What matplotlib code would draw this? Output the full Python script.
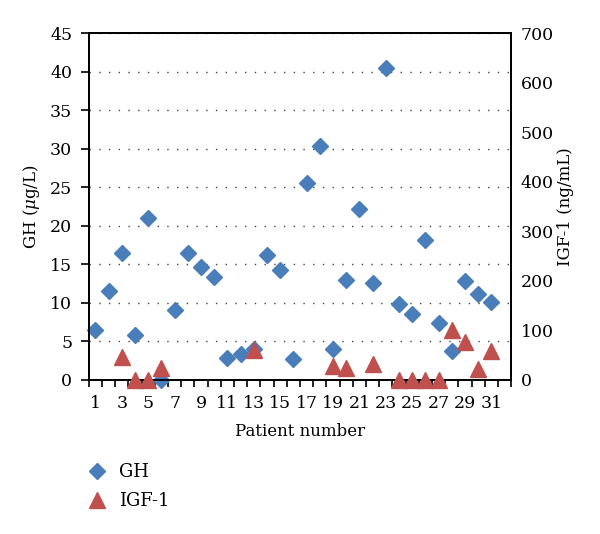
import numpy as np
import matplotlib.pyplot as plt

# patient numbers and measured values
patients = list(range(1, 32))
gh = [6.5, 11.6, 16.5, 5.8, 21.0, 0.0, 9.1, 16.5, 14.6, 13.3,
      2.9, 3.4, 4.0, 16.2, 14.3, 2.7, 25.6, 30.4, 4.0, 13.0,
      22.2, 12.6, 40.4, 9.8, 8.5, 18.2, 7.4, 3.7, 12.9, 11.1, 10.1]
igf_patients = [3, 4, 5, 6, 13, 19, 20, 22, 24, 25, 26, 27, 28, 29, 30, 31]
igf1 = [47, 0, 0, 25, 60, 29, 25, 32, 0, 0, 0, 0, 100, 77, 22, 58]

gh_ticks = list(range(0, 50, 5))
igf_ticks = list(range(0, 800, 100))
x_labels = list(range(1, 32, 2))

blue = '#4a7ebb'
red = '#c0504d'

plt.rcParams['font.family'] = ['DejaVu Serif']
plt.rcParams['mathtext.fontset'] = 'dejavuserif'
fs = 12
tfs = 12.5

fig = plt.figure(figsize=(6.0, 5.34), dpi=100)
ax = fig.add_axes([0.148, 0.2884, 0.704, 0.6498])
ax2 = ax.twinx()

ax.plot(patients, gh, linestyle='none', marker='D', ms=8.5, color=blue,
        markeredgecolor=blue, label='GH', clip_on=False, zorder=3)
ax2.plot(igf_patients, igf1, linestyle='none', marker='^', ms=11, color=red,
         markeredgecolor=red, label='IGF-1', clip_on=False, zorder=3)

ax.set_xlim(0.5, 32.5)
ax.set_ylim(0, 45)
ax2.set_ylim(0, 700)

ax.set_yticks(gh_ticks)
ax2.set_yticks(igf_ticks)
ax.set_xticks(x_labels)
ax.set_xticks(np.arange(0.5, 33, 1), minor=True)
ax.tick_params(axis='x', which='major', length=0, pad=11, labelsize=tfs)
ax.tick_params(axis='x', which='minor', length=5, width=1.2, direction='out')
ax.tick_params(axis='y', length=6, width=1.2, pad=6, labelsize=tfs)
ax2.tick_params(axis='y', length=0, pad=7, labelsize=tfs)

for a in (ax, ax2):
    for s in a.spines.values():
        s.set_linewidth(1.3)
        s.set_color('black')

ax.grid(axis='y', linestyle=(0, (1, 6)), color='#444444', linewidth=1.0)
ax.set_axisbelow(True)

ax.set_xlabel('Patient number', fontsize=fs, labelpad=8)
ax.set_ylabel(r'GH ($\mu$g/L)', fontsize=fs, labelpad=6)
ax2.set_ylabel('IGF-1 (ng/mL)', fontsize=fs, labelpad=2)

h1, l1 = ax.get_legend_handles_labels()
h2, l2 = ax2.get_legend_handles_labels()
fig.legend(h1 + h2, l1 + l2, loc='upper left', bbox_to_anchor=(0.12, 0.163),
           frameon=False, fontsize=13, handlelength=1.0, handletextpad=0.7,
           labelspacing=0.6)

fig.savefig('out.png', dpi=100)
